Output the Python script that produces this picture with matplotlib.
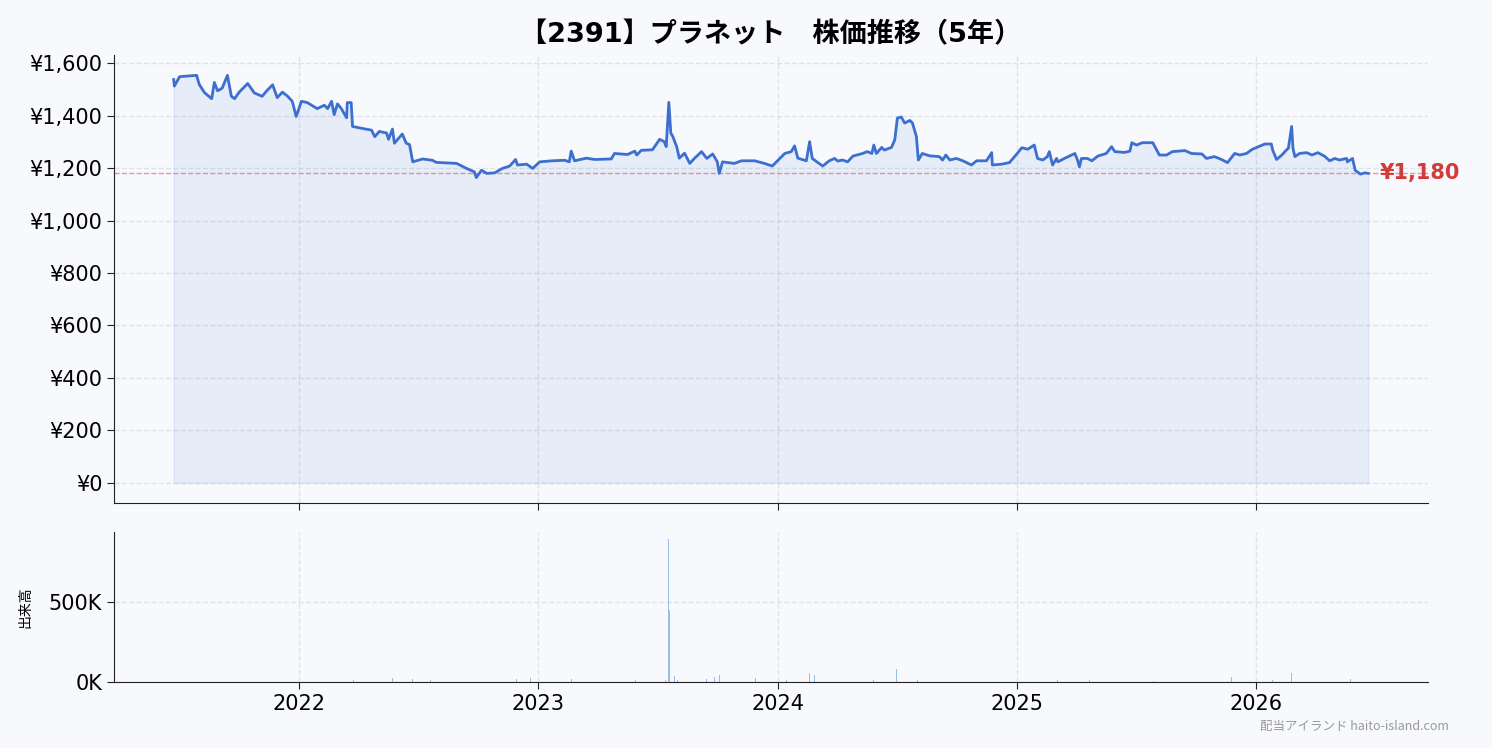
import matplotlib
matplotlib.use("Agg")
import matplotlib.pyplot as plt
import matplotlib.dates as mdates
import matplotlib.ticker as mticker
import pandas as pd

plt.rcParams['font.family'] = ['DejaVu Sans', 'Noto Sans CJK JP']
plt.rcParams['axes.unicode_minus'] = False

BG = '#f7f9fc'
C_LINE = '#3d6fd1'
C_RED = '#d43a3a'

# --- price ---
price_dates = [
    '2021-06-23', '2021-06-24', '2021-07-02', '2021-07-28', '2021-08-01', '2021-08-09',
    '2021-08-20', '2021-08-24', '2021-08-29', '2021-09-05', '2021-09-13', '2021-09-19',
    '2021-09-24', '2021-10-01', '2021-10-14', '2021-10-24', '2021-11-05', '2021-11-12',
    '2021-11-21', '2021-11-28', '2021-12-06', '2021-12-14', '2021-12-21', '2021-12-27',
    '2022-01-04', '2022-01-13', '2022-01-28', '2022-02-08', '2022-02-13', '2022-02-19',
    '2022-02-23', '2022-02-28', '2022-03-06', '2022-03-14', '2022-03-15', '2022-03-21',
    '2022-03-23', '2022-04-10', '2022-04-21', '2022-04-26', '2022-05-03', '2022-05-14',
    '2022-05-17', '2022-05-23', '2022-05-26', '2022-05-31', '2022-06-07', '2022-06-13',
    '2022-06-18', '2022-06-23', '2022-07-08', '2022-07-23', '2022-07-29', '2022-08-29',
    '2022-09-13', '2022-09-25', '2022-09-28', '2022-10-06', '2022-10-14', '2022-10-26',
    '2022-11-07', '2022-11-18', '2022-11-27', '2022-11-30', '2022-12-14', '2022-12-23',
    '2023-01-03', '2023-01-22', '2023-02-10', '2023-02-17', '2023-02-20', '2023-02-25',
    '2023-03-15', '2023-03-28', '2023-04-22', '2023-04-27', '2023-05-17', '2023-05-28',
    '2023-05-31', '2023-06-07', '2023-06-24', '2023-07-05', '2023-07-12', '2023-07-15',
    '2023-07-19', '2023-07-22', '2023-07-25', '2023-07-31', '2023-08-04', '2023-08-12',
    '2023-08-20', '2023-08-27', '2023-09-07', '2023-09-15', '2023-09-24', '2023-10-01',
    '2023-10-04', '2023-10-09', '2023-10-27', '2023-11-07', '2023-11-27', '2023-12-12',
    '2023-12-24', '2024-01-12', '2024-01-22', '2024-01-27', '2024-02-01', '2024-02-14',
    '2024-02-19', '2024-02-23', '2024-03-01', '2024-03-10', '2024-03-20', '2024-03-28',
    '2024-04-02', '2024-04-09', '2024-04-17', '2024-04-25', '2024-05-10', '2024-05-17',
    '2024-05-24', '2024-05-27', '2024-05-31', '2024-06-08', '2024-06-12', '2024-06-23',
    '2024-06-28', '2024-07-02', '2024-07-08', '2024-07-13', '2024-07-21', '2024-07-25',
    '2024-07-31', '2024-08-03', '2024-08-09', '2024-08-20', '2024-09-04', '2024-09-09',
    '2024-09-14', '2024-09-20', '2024-09-30', '2024-10-10', '2024-10-23', '2024-10-31',
    '2024-11-15', '2024-11-23', '2024-11-24', '2024-12-08', '2024-12-20', '2025-01-01',
    '2025-01-08', '2025-01-17', '2025-01-27', '2025-02-01', '2025-02-09', '2025-02-16',
    '2025-02-19', '2025-02-24', '2025-03-02', '2025-03-04', '2025-03-14', '2025-03-30',
    '2025-04-03', '2025-04-06', '2025-04-09', '2025-04-18', '2025-04-25', '2025-05-04',
    '2025-05-17', '2025-05-25', '2025-05-30', '2025-06-14', '2025-06-22', '2025-06-25',
    '2025-07-02', '2025-07-11', '2025-07-27', '2025-08-02', '2025-08-06', '2025-08-17',
    '2025-08-26', '2025-09-14', '2025-09-24', '2025-10-10', '2025-10-17', '2025-10-29',
    '2025-11-09', '2025-11-18', '2025-11-29', '2025-12-07', '2025-12-17', '2025-12-26',
    '2026-01-14', '2026-01-24', '2026-01-26', '2026-02-01', '2026-02-09', '2026-02-16',
    '2026-02-19', '2026-02-24', '2026-02-26', '2026-03-01', '2026-03-08', '2026-03-19',
    '2026-03-27', '2026-04-05', '2026-04-15', '2026-04-23', '2026-05-01', '2026-05-08',
    '2026-05-19', '2026-05-20', '2026-05-28', '2026-06-01', '2026-06-09', '2026-06-16',
    '2026-06-21',
]
price_vals = [
    1538, 1513, 1549, 1554, 1519, 1488,
    1465, 1527, 1495, 1505, 1554, 1474,
    1465, 1490, 1523, 1487, 1474, 1495,
    1518, 1469, 1490, 1474, 1455, 1397,
    1455, 1450, 1427, 1440, 1427, 1455,
    1404, 1445, 1427, 1392, 1450, 1450,
    1359, 1350, 1345, 1320, 1340, 1334,
    1310, 1349, 1295, 1310, 1330, 1295,
    1290, 1224, 1235, 1230, 1222, 1218,
    1199, 1186, 1164, 1192, 1180, 1182,
    1199, 1208, 1233, 1212, 1215, 1199,
    1224, 1228, 1230, 1224, 1265, 1228,
    1238, 1233, 1235, 1256, 1252, 1265,
    1250, 1268, 1270, 1310, 1301, 1282,
    1451, 1334, 1321, 1282, 1238, 1257,
    1218, 1237, 1263, 1237, 1254, 1224,
    1180, 1224, 1218, 1228, 1228, 1218,
    1208, 1256, 1263, 1285, 1238, 1228,
    1301, 1237, 1224, 1208, 1228, 1237,
    1227, 1231, 1224, 1246, 1256, 1263,
    1256, 1288, 1256, 1279, 1269, 1279,
    1308, 1391, 1395, 1372, 1382, 1372,
    1321, 1231, 1256, 1247, 1244, 1231,
    1250, 1231, 1237, 1228, 1212, 1228,
    1228, 1259, 1212, 1215, 1221, 1256,
    1278, 1272, 1288, 1237, 1231, 1244,
    1263, 1212, 1237, 1224, 1237, 1256,
    1231, 1205, 1237, 1237, 1228, 1246,
    1256, 1282, 1263, 1260, 1265, 1297,
    1288, 1297, 1297, 1269, 1250, 1250,
    1263, 1267, 1256, 1254, 1237, 1244,
    1233, 1221, 1256, 1250, 1256, 1272,
    1292, 1292, 1269, 1233, 1250, 1269,
    1276, 1359, 1276, 1244, 1256, 1259,
    1250, 1259, 1246, 1228, 1237, 1231,
    1237, 1224, 1237, 1192, 1177, 1182,
    1180,
]

# --- volume (only the visible bars) ---
vol_dates = [
    '2022-03-24', '2022-05-23', '2022-06-23', '2022-07-04', '2022-07-20', '2022-07-27',
    '2022-11-28', '2022-12-20', '2023-02-20', '2023-05-29', '2023-07-14', '2023-07-19',
    '2023-07-20', '2023-07-24', '2023-07-28', '2023-08-01', '2023-09-15', '2023-09-27',
    '2023-10-04', '2023-11-28', '2024-01-15', '2024-02-19', '2024-02-27', '2024-05-27',
    '2024-07-01', '2024-08-02', '2024-11-25', '2025-03-03', '2025-04-21', '2025-07-28',
    '2025-11-24', '2026-01-26', '2026-02-24', '2026-05-25',
]
vol_vals = [
    10, 25, 17, 23, 10, 10,
    17, 25, 17, 10, 10, 897,
    454, 68, 36, 10, 17, 30,
    42, 23, 11, 57, 42, 15,
    80, 15, 38, 11, 11, 8,
    32, 11, 57, 21,
]  # thousand shares

last_price = 1180
title = '【2391】プラネット　株価推移（5年）'

pdates = pd.to_datetime(price_dates)
vdates = pd.to_datetime(vol_dates)
vols = [v * 1000 for v in vol_vals]

fig = plt.figure(figsize=(14.92, 7.48), dpi=100, facecolor=BG)
ax = fig.add_axes([0.0764, 0.3275, 0.8807, 0.599], facecolor=BG)
axv = fig.add_axes([0.0764, 0.0882, 0.8807, 0.2006], facecolor=BG, sharex=ax)

ax.plot(pdates, price_vals, color=C_LINE, lw=2.0, zorder=3)
ax.fill_between(pdates, price_vals, 0, color=C_LINE, alpha=0.09, zorder=2)
ax.axhline(last_price, color=C_RED, lw=1.0, ls='--', alpha=0.5, zorder=1)
ax.annotate(f'¥{last_price:,}', xy=(pdates[-1], last_price), xytext=(8, 0),
            textcoords='offset points', color=C_RED, fontsize=15, fontweight='bold',
            va='center', ha='left')
ax.set_title(title, fontsize=19.5, fontweight='bold', pad=9)
ax.yaxis.set_major_formatter(mticker.FuncFormatter(lambda v, p: f'¥{v:,.0f}'))
ax.yaxis.set_major_locator(mticker.MultipleLocator(200))

axv.bar(vdates, vols, width=1.2, color='#4a8fd6', alpha=0.55)
axv.set_ylabel('出来高', fontsize=10, family=['Noto Sans CJK JP'], labelpad=12)
axv.yaxis.set_major_formatter(mticker.FuncFormatter(lambda v, p: f'{v/1000:.0f}K'))
axv.yaxis.set_major_locator(mticker.MultipleLocator(500000))
axv.xaxis.set_major_locator(mdates.YearLocator())
axv.xaxis.set_major_formatter(mdates.DateFormatter('%Y'))
plt.setp(ax.get_xticklabels(), visible=False)

for a in (ax, axv):
    a.grid(True, ls='--', color='#d5d9e0', lw=1.0, alpha=0.7)
    a.set_axisbelow(True)
    a.spines['top'].set_visible(False)
    a.spines['right'].set_visible(False)
    a.spines['left'].set_color('#222222')
    a.spines['bottom'].set_color('#222222')
    a.tick_params(labelsize=15, color='#222222', length=5)

fig.text(0.971, 0.02, '配当アイランド haito-island.com', fontsize=9, color='#999999',
         ha='right', va='bottom', family=['Noto Sans CJK JP'])

fig.savefig('out.png', dpi=100, facecolor=BG)
